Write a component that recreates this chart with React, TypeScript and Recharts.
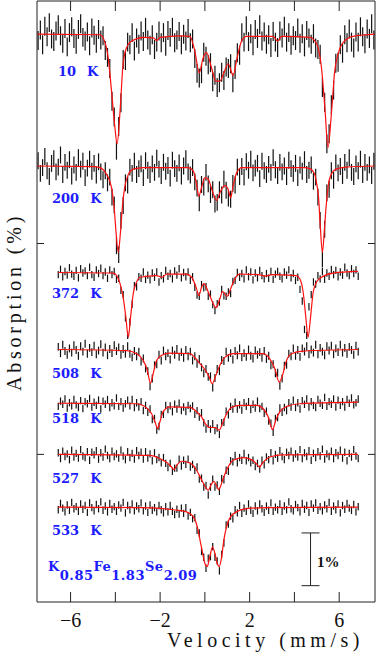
import React from 'react';
import { ComposedChart, XAxis, YAxis, Scatter, Line, ErrorBar } from 'recharts';

// velocity channels (mm/s)
const STEP = 0.1;
const wideStart = -7.45; // 10 K and 200 K runs
const narrowStart = -6.55; // 372 K .. 533 K runs

const temps = ['10', '200', '372', '508', '518', '527', '533'];
// vertical offset of each spectrum baseline, in %
const offsets = [7.97, 5.47, 3.45, 1.99, 0.97, 0, -1.0];
// statistical error of each run, in %
const errs = [0.18, 0.16, 0.07, 0.075, 0.07, 0.07, 0.07];

// measured absorption, in units of 0.01 %
const abs10 = [12, -8, 20, -15, 5, -22, 9, 14, -6, -18, 3, 17, -11, 24, -3, -14, 8, 19, -9, -20, 6, 13, -4, 22, -12, 2, 17, -9, 11, 3, 31, 44, 65, 127, 157, 220, 175, 130, 48, 50, 15, 20, -3, 32, 7, 19, -6, 14, -13, 11, 21, 1, 29, 15, -6, 16, -3, 23, -7, 6, -13, 16, 11, -5, 20, 0, 13, -11, 16, 9, 46, 74, 83, 75, 34, 42, 58, 54, 90, 78, 101, 92, 72, 88, 62, 65, 56, 92, 67, 35, 40, -3, 15, -16, 14, -1, 22, -9, 8, -18, 13, -4, 19, 1, 25, -5, 15, 25, -6, 7, -15, 15, -3, 21, 3, 12, -12, 17, -1, 24, -7, 7, 19, -1, 26, 29, 38, 101, 129, 208, 189, 134, 106, 55, 53, 20, 36, 1, 16, -10, 15, 26, -4, 15, -14, 5, 18, -10, 8, -20, 11];
const abs200 = [-10, 14, 3, -18, 9, 20, -5, -14, 11, 2, -21, 16, -7, 8, -12, 19, -2, 12, -16, 6, -9, 22, 4, -13, 10, -5, 17, -8, 11, 26, 9, 32, 21, 59, 74, 151, 168, 103, 75, 32, 36, 2, 14, -9, 16, 5, -4, 22, -10, 8, 16, -4, 12, -15, 6, 18, -7, 10, -1, 23, -11, 5, 14, -6, 19, 0, -14, 11, 17, 3, 30, 42, 70, 35, 40, 12, 34, 54, 45, 72, 69, 45, 55, 25, 46, 61, 63, 33, 36, 2, 20, 1, 21, -8, 8, -13, 13, 4, -5, 24, -9, 9, 16, -3, 12, -16, 7, 18, -7, 11, 0, 20, -11, 5, 14, -5, 22, -2, 10, -12, 16, 8, -2, 29, 21, 59, 103, 176, 120, 51, 44, 9, 27, -6, 13, 1, 18, -7, 8, -16, 12, 20, -4, 9, -13, 16, -7, 12, -2, 18, -9];
const abs372 = [4, -6, 8, -2, 5, -9, 3, 7, -4, 10, -7, 1, -3, 6, -10, 4, 9, -5, 2, -8, 6, -1, 11, -5, 4, -2, 13, 11, 34, 42, 86, 119, 94, 60, 25, 27, 8, 11, -1, 13, 5, 14, 1, 9, -1, 18, 6, 12, -4, 7, 2, 12, -3, 5, -7, 10, 0, 8, -1, 15, 8, 28, 43, 45, 23, 29, 27, 45, 41, 61, 72, 59, 56, 32, 44, 45, 37, 40, 17, 15, 0, 9, 2, 12, -5, 8, -1, 14, 1, 10, -4, 6, 12, 2, 11, -2, 13, 3, -2, 7, 12, -1, 5, -5, 10, 2, 15, 9, 32, 54, 108, 119, 65, 42, 18, 22, 6, 12, -2, 13, 1, 7, -6, 4, -4, 8, -1, 5, -10, 1, 6, -7, 2, -5, 7];
const abs508 = [-5, 7, -9, 3, 10, -2, 6, -8, 1, 12, -6, 4, -11, 8, -3, 5, -7, 9, 2, -10, 6, -4, 11, -1, 7, -8, 3, -4, 10, -1, 8, -6, 8, 15, 3, 13, 4, 23, 17, 36, 41, 70, 55, 30, 28, 10, 21, 2, 13, 7, 19, 2, 10, -1, 14, 5, 16, 1, 13, 4, 21, 13, 27, 18, 34, 45, 37, 52, 51, 72, 54, 37, 41, 20, 22, 4, 16, 7, 19, 3, 11, -2, 15, 7, 14, 0, 12, 17, 2, 10, 5, 16, 3, 18, 12, 30, 28, 45, 44, 69, 55, 31, 29, 8, 13, -2, 12, 1, 14, -2, 4, -6, 9, 0, 6, -9, 9, -3, 4, 11, -6, 2, -7, 9, -2, 5, -9, 6, -3, 8, -5, 1, 10, -7, 4];
const abs518 = [6, -4, 2, -8, 9, -1, 5, -7, 3, 8, -5, 10, -3, 1, -9, 7, -2, 4, -6, 11, -4, 2, -7, 8, -1, 5, -10, 6, -3, 9, 1, -6, 5, -7, 8, -1, 7, -3, 14, 4, 17, 11, 31, 29, 51, 44, 21, 21, 4, 12, 5, 16, 2, 11, 0, 14, 7, 16, 4, 10, 5, 21, 14, 26, 18, 37, 49, 39, 49, 39, 52, 47, 59, 37, 36, 15, 22, 6, 11, -2, 11, 3, 13, -1, 6, -3, 12, 2, 9, -4, 10, 6, 19, 15, 34, 38, 55, 29, 27, 9, 17, 8, 14, -1, 7, -6, 8, -1, 11, -5, 2, -8, 7, -3, 4, 8, -7, 0, 4, -11, 6, -3, 2, -8, 7, -6, 4, -3, 7, -7, 0, -10, 3, -1, -8];
const abs527 = [-3, 8, -6, 4, -1, 10, -8, 5, -2, 7, -9, 3, 6, -5, 11, -4, 1, -7, 9, -3, 5, -10, 2, 8, -6, 4, -1, 7, -8, 3, 10, -5, 6, -2, 9, -7, 2, -4, 9, -5, 7, -1, 12, -3, 10, 6, 16, 6, 17, 25, 17, 32, 26, 26, 9, 22, 11, 19, 9, 24, 19, 30, 24, 47, 45, 62, 59, 77, 62, 47, 62, 58, 70, 46, 48, 30, 32, 12, 14, 2, 16, 6, 11, -2, 12, 6, 16, 11, 23, 17, 28, 11, 20, 5, 10, -3, 12, 0, 7, -7, 4, 10, -4, 2, -6, 7, -1, 5, -9, 8, -3, 4, -7, 11, -2, 6, -5, 3, -10, 9, -1, 4, -6, 8, -3, 2, -8, 7, -4, 12, -2, 5, -9, 3, 8];
const abs533 = [5, -7, 2, 9, -4, 6, -9, 3, -1, 8, -6, 4, -3, 10, -8, 1, 7, -5, 3, -10, 6, -2, 9, -7, 4, -1, 8, -4, 2, -9, 11, -3, 5, -6, 7, -2, 3, -8, 7, -2, 10, -4, 6, 1, 9, -3, 5, 11, -1, 9, -3, 8, 14, 4, 13, 2, 12, 1, 17, 10, 22, 20, 44, 49, 84, 95, 116, 97, 94, 75, 95, 102, 121, 90, 68, 34, 32, 17, 22, 5, 11, -3, 12, 2, 8, -6, 6, 12, -2, 7, -6, 3, 10, -2, 6, -8, 8, 0, 5, -6, 8, -2, 5, -10, 3, 7, -5, 1, 9, -7, 4, -3, 10, -6, 2, -8, 6, -1, 7, -4, 3, -9, 8, -2, 5, -6, 11, -3, 4, -7, 2, 6, -5, 9, -1];

// fitted curves: [velocity mm/s, absorption %]
const fit10 = [[-7.5, 0], [-4.69, 0.01], [-4.46, 0.16], [-4.32, 0.45], [-4.17, 1.08], [-4.02, 1.77], [-3.92, 2.08], [-3.79, 1.46], [-3.67, 0.64], [-3.53, 0.29], [-3.27, 0.13], [-2.75, 0.06], [-2.3, 0.07], [-2.15, 0.12], [-2.0, 0.06], [-1.12, 0.03], [-0.67, 0.04], [-0.45, 0.32], [-0.25, 0.73], [-0.08, 0.45], [0.07, 0.35], [0.3, 0.64], [0.49, 0.89], [0.67, 0.89], [0.85, 0.73], [1.04, 0.56], [1.26, 0.78], [1.44, 0.45], [1.64, 0.13], [1.86, 0.04], [3.05, 0.04], [3.25, 0.13], [3.43, 0.04], [4.7, 0.06], [4.9, 0.12], [5.06, 0.26], [5.21, 0.64], [5.36, 1.39], [5.5, 2.15], [5.66, 1.46], [5.8, 0.7], [5.95, 0.38], [6.17, 0.16], [6.62, 0.04], [7.6, 0]];
const fit200 = [[-7.5, 0], [-4.95, 0.01], [-4.69, 0.03], [-4.39, 0.16], [-4.17, 0.41], [-4.05, 0.8], [-3.97, 1.25], [-3.87, 1.64], [-3.77, 1.25], [-3.68, 0.75], [-3.58, 0.4], [-3.42, 0.16], [-3.2, 0.06], [-2.75, 0.03], [-0.75, 0.03], [-0.52, 0.09], [-0.37, 0.35], [-0.27, 0.57], [-0.15, 0.41], [0, 0.22], [0.15, 0.25], [0.33, 0.47], [0.52, 0.65], [0.71, 0.47], [0.89, 0.37], [1.04, 0.44], [1.15, 0.6], [1.26, 0.38], [1.42, 0.13], [1.64, 0.03], [4.45, 0.03], [4.69, 0.05], [4.91, 0.16], [5.0, 0.35], [5.08, 0.6], [5.15, 1.1], [5.25, 1.64], [5.34, 1.2], [5.42, 0.75], [5.52, 0.35], [5.65, 0.15], [5.85, 0.06], [6.3, 0.02], [7.6, 0]];
const fit372 = [[-6.55, 0], [-4.09, 0.01], [-3.94, 0.06], [-3.79, 0.21], [-3.65, 0.47], [-3.53, 0.85], [-3.42, 1.23], [-3.32, 0.85], [-3.2, 0.4], [-3.05, 0.18], [-2.9, 0.09], [-2.16, 0.06], [-1.9, 0.09], [-1.71, 0.03], [-0.82, 0.03], [-0.59, 0.09], [-0.37, 0.31], [-0.27, 0.44], [-0.15, 0.28], [-0.04, 0.21], [0.15, 0.37], [0.37, 0.59], [0.49, 0.67], [0.67, 0.5], [0.79, 0.36], [1.01, 0.45], [1.15, 0.31], [1.34, 0.12], [1.56, 0.03], [2.4, 0.04], [2.7, 0.07], [3.0, 0.04], [4.09, 0.06], [4.24, 0.12], [4.39, 0.37], [4.51, 0.85], [4.61, 1.23], [4.72, 0.85], [4.84, 0.37], [4.99, 0.18], [5.21, 0.09], [5.73, 0.01], [6.84, -0.02]];
const fit508 = [[-6.55, 0], [-3.5, 0.02], [-3.05, 0.08], [-2.75, 0.21], [-2.57, 0.4], [-2.43, 0.64], [-2.31, 0.46], [-2.16, 0.21], [-1.93, 0.11], [-1.56, 0.07], [-0.67, 0.08], [-0.45, 0.15], [-0.22, 0.27], [0, 0.38], [0.19, 0.52], [0.33, 0.65], [0.49, 0.49], [0.67, 0.3], [0.89, 0.15], [1.26, 0.08], [2.6, 0.08], [2.9, 0.18], [3.13, 0.37], [3.32, 0.62], [3.47, 0.49], [3.62, 0.24], [3.87, 0.08], [4.39, 0.03], [6.84, 0]];
const fit518 = [[-6.55, 0], [-3.05, 0.01], [-2.68, 0.06], [-2.38, 0.2], [-2.23, 0.35], [-2.11, 0.48], [-2.01, 0.35], [-1.86, 0.16], [-1.56, 0.07], [-0.67, 0.08], [-0.37, 0.16], [-0.15, 0.26], [0.04, 0.4], [0.22, 0.46], [0.45, 0.46], [0.64, 0.51], [0.79, 0.38], [0.97, 0.2], [1.19, 0.08], [1.56, 0.04], [2.31, 0.04], [2.6, 0.1], [2.83, 0.26], [3.02, 0.5], [3.17, 0.32], [3.35, 0.16], [3.65, 0.06], [4.24, 0.01], [6.84, -0.02]];
const fit527 = [[-6.55, 0], [-2.46, 0.02], [-2.01, 0.08], [-1.71, 0.15], [-1.49, 0.24], [-1.38, 0.29], [-1.26, 0.21], [-1.04, 0.13], [-0.67, 0.16], [-0.37, 0.3], [-0.15, 0.48], [0.04, 0.63], [0.15, 0.68], [0.3, 0.56], [0.4, 0.51], [0.52, 0.59], [0.62, 0.67], [0.79, 0.49], [1.0, 0.27], [1.26, 0.11], [1.71, 0.06], [2.08, 0.1], [2.31, 0.18], [2.43, 0.24], [2.6, 0.15], [2.9, 0.05], [3.5, 0.01], [6.84, 0]];
const fit533 = [[-6.55, 0], [-2.75, 0.01], [-1.41, 0.05], [-0.82, 0.09], [-0.52, 0.18], [-0.34, 0.37], [-0.22, 0.62], [-0.1, 0.88], [0, 1.07], [0.1, 1.13], [0.22, 0.94], [0.34, 0.76], [0.45, 0.88], [0.55, 1.07], [0.64, 1.13], [0.75, 0.94], [0.85, 0.62], [0.97, 0.37], [1.15, 0.18], [1.42, 0.09], [1.86, 0.03], [2.75, 0.01], [6.84, 0]];

const xTicks = [-6, -4, -2, 0, 2, 4, 6];
const xLabelled = [-6, -2, 2, 6];
const yTicks = [0, 4];
// 1 % scale bar: velocity, centre in %, half length in %
const scaleBar = [{ x: 4.72, y: -1.99, e: 0.5 }];

const observed = [abs10, abs200, abs372, abs508, abs518, abs527, abs533];
const fits = [fit10, fit200, fit372, fit508, fit518, fit527, fit533];
const starts = [wideStart, wideStart, narrowStart, narrowStart, narrowStart, narrowStart, narrowStart];

const spectra = temps.map((t, k) => ({
  t,
  points: observed[k].map((a, i) => ({
    x: +(starts[k] + i * STEP).toFixed(2),
    y: offsets[k] - a / 100,
    e: errs[k],
  })),
  curve: fits[k].map(([v, a]) => ({ x: v, y: offsets[k] - a })),
}));

// label layout (pixels)
const labelPos = [[58, 76], [52, 203], [52, 298], [52, 378], [52, 423], [52, 483], [52, 535]];

const BLUE = '#1c1cff';
const serif = 'Liberation Serif';
const labelFont = 'DejaVu Serif';

const BottomTick = (props: any) => {
  const { x, y, payload } = props;
  const v = payload.value;
  return (
    <g>
      <line x1={x} x2={x} y1={y} y2={y - 10} stroke="#222" />
      {xLabelled.includes(v) && (
        <text x={x} y={y + 25} textAnchor="middle" fontFamily={serif} fontSize={20} fill="#111">
          {v < 0 ? '\u2212' + Math.abs(v) : String(v)}
        </text>
      )}
    </g>
  );
};

const TopTick = (props: any) => {
  const { x, y } = props;
  return <line x1={x} x2={x} y1={y} y2={y + 10} stroke="#222" />;
};

const LeftTick = (props: any) => {
  const { x, y } = props;
  return <line x1={x} x2={x + 7} y1={y} y2={y} stroke="#222" />;
};

const RightTick = (props: any) => {
  const { x, y } = props;
  return <line x1={x} x2={x - 7} y1={y} y2={y} stroke="#222" />;
};

const noDot = () => <g />;

export default function App() {
  return (
    <div style={{ position: 'absolute', left: 0, top: 0, width: 376, height: 654, background: '#fff' }}>
      <ComposedChart width={376} height={654} margin={{ top: 0, right: 0, bottom: 0, left: 0 }}>
        <XAxis
          xAxisId="b"
          type="number"
          dataKey="x"
          domain={[-7.5, 7.6]}
          ticks={xTicks}
          interval={0}
          allowDataOverflow
          height={52}
          tickSize={0}
          tickMargin={0}
          tickLine={false}
          tick={BottomTick}
          axisLine={{ stroke: '#222' }}
        />
        <XAxis
          xAxisId="t"
          orientation="top"
          type="number"
          dataKey="x"
          domain={[-7.5, 7.6]}
          ticks={xTicks}
          interval={0}
          allowDataOverflow
          height={1}
          tickSize={0}
          tickMargin={0}
          tickLine={false}
          tick={TopTick}
          axisLine={{ stroke: '#222' }}
        />
        <YAxis
          yAxisId="l"
          type="number"
          dataKey="y"
          domain={[-2.8, 8.6]}
          ticks={yTicks}
          interval={0}
          allowDataOverflow
          width={37}
          tickSize={0}
          tickMargin={0}
          tickLine={false}
          tick={LeftTick}
          axisLine={{ stroke: '#222' }}
        />
        <YAxis
          yAxisId="r"
          orientation="right"
          type="number"
          dataKey="y"
          domain={[-2.8, 8.6]}
          ticks={yTicks}
          interval={0}
          allowDataOverflow
          width={1}
          tickSize={0}
          tickMargin={0}
          tickLine={false}
          tick={RightTick}
          axisLine={{ stroke: '#222' }}
        />
        {spectra.map((s) => (
          <Scatter
            key={'d' + s.t}
            data={s.points}
            xAxisId="b"
            yAxisId="l"
            dataKey="y"
            shape={noDot}
            isAnimationActive={false}
          >
            <ErrorBar dataKey="e" direction="y" width={0} stroke="#111" strokeWidth={1.2} />
          </Scatter>
        ))}
        {spectra.map((s) => (
          <Line
            key={'f' + s.t}
            data={s.curve}
            xAxisId="b"
            yAxisId="l"
            dataKey="y"
            type="monotone"
            stroke="#ff1010"
            strokeWidth={1.2}
            dot={false}
            activeDot={false}
            isAnimationActive={false}
          />
        ))}
        <Scatter data={scaleBar} xAxisId="b" yAxisId="l" dataKey="y" shape={noDot} isAnimationActive={false}>
          <ErrorBar dataKey="e" direction="y" width={9} stroke="#222" strokeWidth={1} />
        </Scatter>
      </ComposedChart>
      <svg width={376} height={654} style={{ position: 'absolute', left: 0, top: 0, pointerEvents: 'none' }}>
        {spectra.map((s, k) => (
          <text
            key={'l' + s.t}
            x={labelPos[k][0]}
            y={labelPos[k][1]}
            fontFamily={labelFont}
            fontWeight="bold"
            fontSize={13}
            fill={BLUE}
          >
            <tspan>{s.t}</tspan>
            <tspan dx={11}>K</tspan>
          </text>
        ))}
        <text x={48} y={571} fontFamily={labelFont} fontWeight="bold" fontSize={13} letterSpacing={0.5} fill={BLUE}>
          <tspan>K</tspan>
          <tspan dy={8.5}>0.85</tspan>
          <tspan dy={-8.5}>Fe</tspan>
          <tspan dy={8.5}>1.83</tspan>
          <tspan dy={-8.5}>Se</tspan>
          <tspan dy={8.5}>2.09</tspan>
        </text>
        <text x={317} y={567} fontFamily={serif} fontWeight="bold" fontSize={15} fill="#111">
          1%
        </text>
        <text x={167} y={647} fontFamily={serif} fontSize={20} letterSpacing={4.5} fill="#111">
          Velocity (mm/s)
        </text>
        <text
          transform="translate(21,302) rotate(-90)"
          textAnchor="middle"
          fontFamily={serif}
          fontSize={20}
          letterSpacing={3.8}
          fill="#111"
        >
          Absorption (%)
        </text>
      </svg>
    </div>
  );
}
